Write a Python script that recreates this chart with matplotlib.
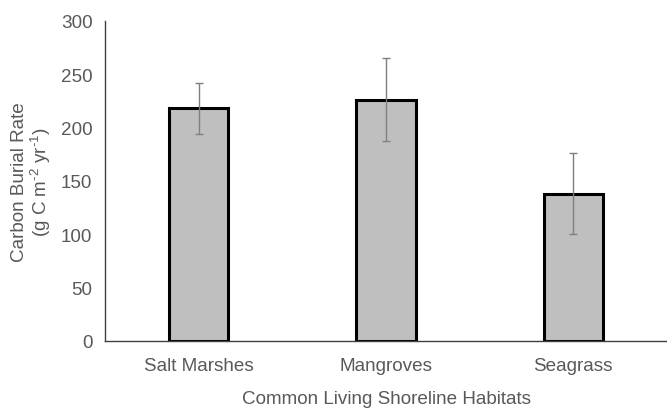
import matplotlib
matplotlib.use("Agg")
import matplotlib.pyplot as plt

categories = ["Salt Marshes", "Mangroves", "Seagrass"]
values = [218, 226, 138]
errors = [24, 39, 38]

plt.rcParams['font.family'] = ['Liberation Sans', 'DejaVu Sans']
plt.rcParams['mathtext.fontset'] = 'custom'
plt.rcParams['mathtext.rm'] = 'Liberation Sans'
plt.rcParams['mathtext.it'] = 'Liberation Sans'
plt.rcParams['axes.unicode_minus'] = False
txt = '#595959'
fs = 13.6

fig = plt.figure(figsize=(6.67, 4.10), dpi=100)
ax = fig.add_axes([105/667, 68.3/410, 1 - 105/667, 320/410])
x = range(len(categories))
ax.bar(x, values, width=0.315, color='#bfbfbf', edgecolor='black', linewidth=2.2, zorder=2)
ax.errorbar(x, values, yerr=errors, fmt='none', ecolor='#7f7f7f', elinewidth=1.0,
            capsize=3, capthick=1.0, zorder=3)
ax.set_xlim(-0.5, 2.5)
ax.set_ylim(0, 300)
ax.set_yticks(range(0, 301, 50))
ax.set_xticks(list(x))
ax.set_xticklabels(categories)
ax.tick_params(axis='both', length=0, labelsize=fs, colors=txt)
ax.tick_params(axis='x', pad=12)
ax.tick_params(axis='y', pad=9)
for s in ['top', 'right']:
    ax.spines[s].set_visible(False)
for s in ['left', 'bottom']:
    ax.spines[s].set_color('#404040')
    ax.spines[s].set_linewidth(1.0)
ax.set_xlabel("Common Living Shoreline Habitats", fontsize=fs, color=txt, labelpad=11)
ax.set_ylabel("Carbon Burial Rate\n(g C m$^{\\text{-}2}$ yr$^{\\text{-}1}$)", fontsize=fs, color=txt,
              labelpad=6, linespacing=1.0)
fig.savefig("out.png", dpi=100)
